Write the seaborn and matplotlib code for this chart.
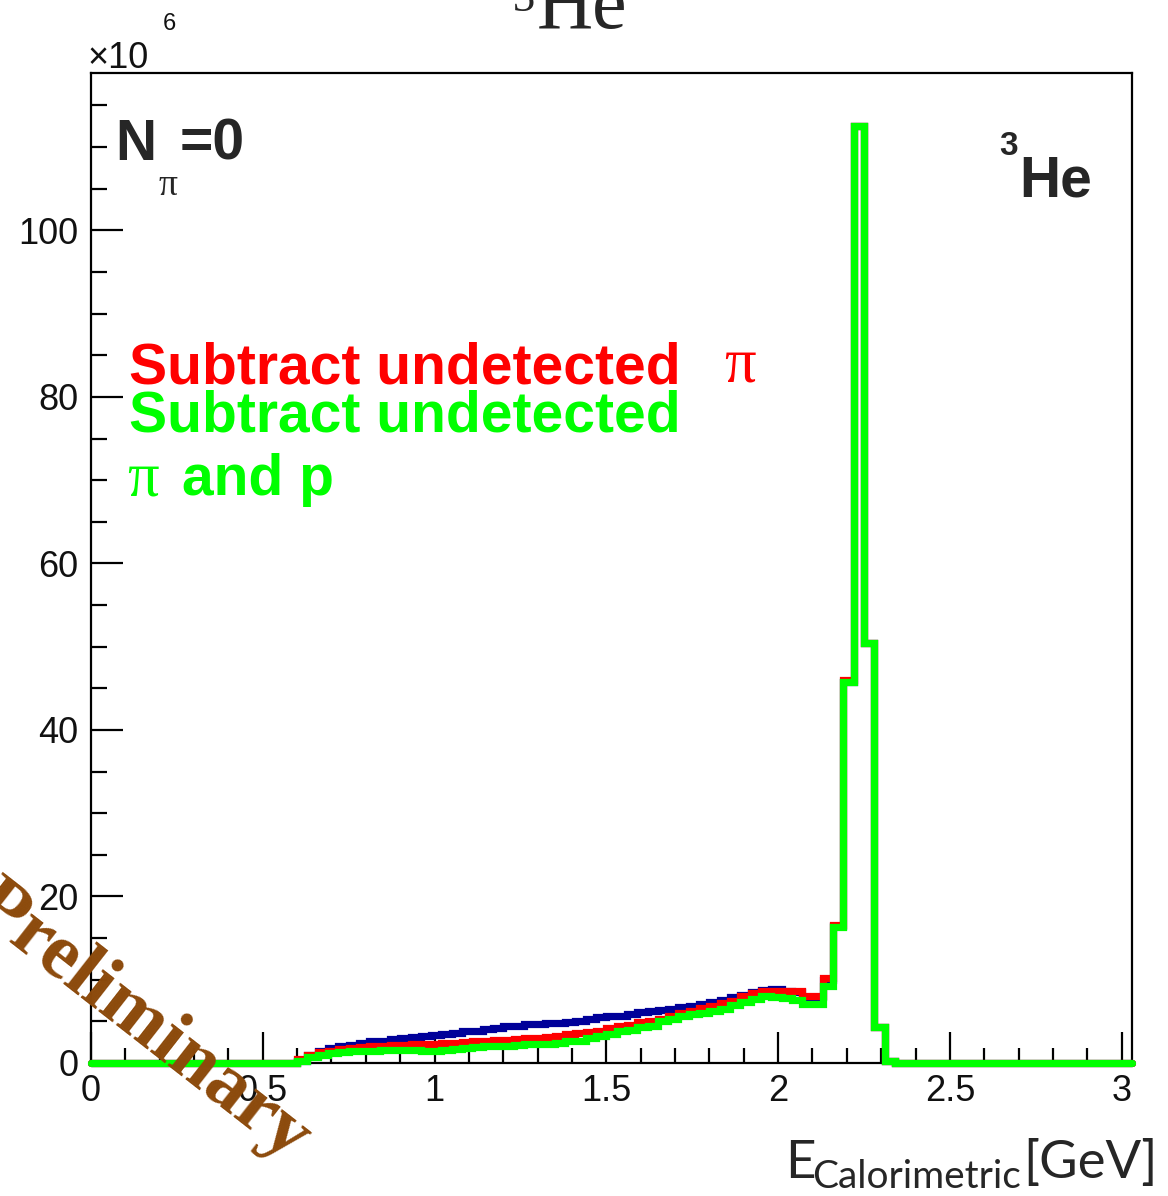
import numpy as np
import pandas as pd
import matplotlib
matplotlib.use("Agg")
import matplotlib.pyplot as plt
from matplotlib.ticker import MultipleLocator, FixedLocator, FixedFormatter
import seaborn as sns

# Histogram binning (ROOT style: 0.03 GeV bins, 0 -> 3.03 GeV)
BIN_WIDTH = 0.03
N_BINS = 101
FIRST_BIN = 20  # first bin with entries (0.60 GeV)

# bin contents (x10^6) for bins 20..77
blue_counts = [0.3, 1.0, 1.5, 1.8, 2.0, 2.2, 2.4, 2.6, 2.7, 2.9,
               3.0, 3.1, 3.2, 3.4, 3.5, 3.6, 3.8, 3.9, 4.1, 4.2,
               4.4, 4.5, 4.7, 4.7, 4.8, 4.8, 4.9, 5.0, 5.3, 5.5,
               5.6, 5.7, 5.9, 6.1, 6.2, 6.4, 6.5, 6.7, 6.9, 7.1,
               7.3, 7.6, 7.9, 8.2, 8.5, 8.8, 8.9, 8.6, 8.5, 7.9,
               7.9, 10.0, 16.4, 45.8, 112.5, 50.5, 4.3, 0.2]
red_counts = [0.5, 1.0, 1.3, 1.5, 1.7, 1.8, 1.9, 2.0, 2.1, 2.2,
              2.2, 2.3, 2.3, 2.3, 2.4, 2.4, 2.5, 2.6, 2.7, 2.8,
              2.8, 2.9, 3.0, 3.0, 3.1, 3.3, 3.5, 3.6, 3.7, 3.9,
              4.2, 4.4, 4.6, 4.9, 5.0, 5.3, 5.7, 6.0, 6.2, 6.6,
              6.9, 7.2, 7.5, 8.0, 8.4, 8.6, 8.7, 8.7, 8.6, 8.0,
              8.0, 10.2, 16.6, 46.0, 112.5, 50.5, 4.3, 0.2]
green_counts = [0.3, 0.7, 1.0, 1.2, 1.3, 1.4, 1.5, 1.5, 1.6, 1.6,
                1.6, 1.6, 1.5, 1.5, 1.6, 1.7, 1.8, 1.9, 2.0, 2.1,
                2.1, 2.2, 2.3, 2.3, 2.3, 2.4, 2.6, 2.7, 3.0, 3.2,
                3.5, 3.8, 4.0, 4.3, 4.5, 5.0, 5.3, 5.6, 5.9, 6.0,
                6.2, 6.5, 7.0, 7.3, 7.7, 8.0, 7.9, 7.8, 7.6, 7.1,
                7.1, 9.3, 16.3, 45.7, 112.5, 50.5, 4.3, 0.2]

x_major = [0, 0.5, 1, 1.5, 2, 2.5, 3]
x_labels = ["0", "0.5", "1", "1.5", "2", "2.5", "3"]
y_major = [0, 20, 40, 60, 80, 100]

W, H = 1168, 1196


def full_hist(vals):
    h = np.zeros(N_BINS)
    h[FIRST_BIN:FIRST_BIN + len(vals)] = vals
    return h


def ftext(fig, x, y, s, **kw):
    # place text using pixel coords of the reference (origin top-left)
    return fig.text(x / W, 1 - y / H, s, va=kw.pop("va", "baseline"), **kw)


sns.set_style("white")
plt.rcParams["font.family"] = ["Liberation Sans", "DejaVu Sans"]

fig = plt.figure(figsize=(W / 100, H / 100), dpi=100)
ax = fig.add_axes([91 / W, 1 - 1063 / H, (1132 - 91) / W, (1063 - 73) / H])

edges = np.arange(N_BINS + 1) * BIN_WIDTH
centers = edges[:-1] + BIN_WIDTH / 2

for vals, col in [(blue_counts, "#000099"), (red_counts, "#ff0000"), (green_counts, "#00ff00")]:
    df = pd.DataFrame({"E": centers, "w": full_hist(vals)})
    sns.histplot(data=df, x="E", weights="w", bins=list(edges), element="step",
                 fill=False, color=col, linewidth=5.2, ax=ax)
for ln in ax.lines:
    ln.set_clip_on(False)
    ln.set_zorder(3)
    ln.set_solid_joinstyle("miter")

ax.set_xlim(0, 3.03)
ax.set_ylim(0, 118.9)
ax.set_xlabel("")
ax.set_ylabel("")

ax.xaxis.set_major_locator(FixedLocator(x_major))
ax.xaxis.set_major_formatter(FixedFormatter(x_labels))
ax.xaxis.set_minor_locator(MultipleLocator(0.1))
ax.yaxis.set_major_locator(FixedLocator(y_major))
ax.yaxis.set_minor_locator(MultipleLocator(5))
ax.tick_params(which="both", direction="in", bottom=True, left=True, top=False, right=False,
               width=1.6, color="black", labelsize=26, labelcolor="#111111")
ax.tick_params(axis="x", which="major", length=22, pad=8)
ax.tick_params(axis="x", which="minor", length=11)
ax.tick_params(axis="y", which="major", length=23, pad=9)
ax.tick_params(axis="y", which="minor", length=11.5)
for sp in ax.spines.values():
    sp.set_visible(True)
    sp.set_color("black")
    sp.set_linewidth(1.6)

# exponent label
ftext(fig, 88, 68, "\u00d710", fontsize=26, color="#111111")
ftext(fig, 163, 30, "6", fontsize=17, color="#111111")

# N_pi = 0
ftext(fig, 115, 160, "N", fontsize=41, fontweight="bold")
ftext(fig, 180, 160, "=0", fontsize=41, fontweight="bold")
ftext(fig, 158, 195, "\u03c0", fontsize=27, family="Liberation Serif")

# 3He label in the frame
ftext(fig, 999, 155, "3", fontsize=24, fontweight="bold")
ftext(fig, 1019, 197, "He", fontsize=41, fontweight="bold")

# legend-like texts
ftext(fig, 129, 383, "Subtract undetected", fontsize=41, fontweight="bold", color="#ff0000")
ftext(fig, 724, 382, "\u03c0", fontsize=45, family="Liberation Serif", color="#ff0000")
ftext(fig, 129, 432, "Subtract undetected", fontsize=41, fontweight="bold", color="#00ff00")
ftext(fig, 127, 495, "\u03c0", fontsize=45, family="Liberation Serif", color="#00ff00")
ftext(fig, 182, 495, "and p", fontsize=41, fontweight="bold", color="#00ff00")

# page title, cut at the top
ftext(fig, 513, 11, "3", fontsize=32, family="Liberation Serif")
ftext(fig, 537, 28, "He", fontsize=56, family="Liberation Serif")

# x axis label
ftext(fig, 785, 1178, "E", fontsize=38, family="Lato")
ftext(fig, 812, 1188, "Calorimetric", fontsize=28, family="Lato")
ftext(fig, 1023, 1178, "[GeV]", fontsize=38, family="Lato")

# watermark
ftext(fig, 290, 1162, "Preliminary", fontsize=57, fontweight="bold", family="Liberation Serif",
      color="#8c4a0c", rotation=-38, rotation_mode="anchor", ha="right")

fig.savefig("out.png", dpi=100)
